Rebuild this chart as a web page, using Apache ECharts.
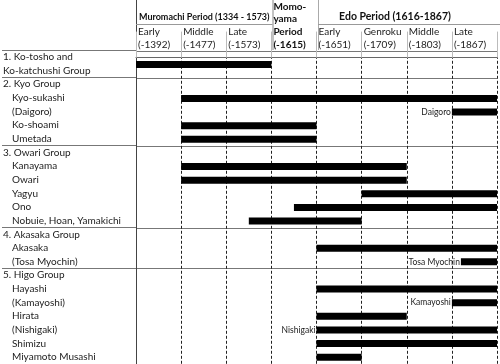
<!DOCTYPE html>
<html>
<head>
<meta charset="utf-8">
<script src="https://cdn.jsdelivr.net/npm/echarts@6/dist/echarts.min.js"></script>
<style>
  html, body { margin: 0; padding: 0; background: #fff; }
  #main { width: 500px; height: 364px; }
</style>
</head>
<body>
<div id="main"></div>
<script>
const chartDom = document.getElementById('main')
const myChart = echarts.init(chartDom)

// row labels down the left side (group header rows are not indented)
const rowLabels = [
    '1. Ko-tosho and', 'Ko-katchushi Group',
    '2. Kyo Group', 'Kyo-sukashi', '(Daigoro)', 'Ko-shoami', 'Umetada',
    '3. Owari Group', 'Kanayama', 'Owari', 'Yagyu', 'Ono', 'Nobuie, Hoan, Yamakichi',
    '4. Akasaka Group', 'Akasaka', '(Tosa Myochin)',
    '5. Higo Group', 'Hayashi', '(Kamayoshi)', 'Hirata', '(Nishigaki)', 'Shimizu', 'Miyamoto Musashi'
]
const headerRows = [0, 1, 2, 7, 13, 16]
const groupBreaks = [0, 2, 7, 13, 16]

// era columns (x axis runs 0..8, one unit per column)
const colLabels = [
    'Early\n(-1392)', 'Middle\n(-1477)', 'Late\n(-1573)', '',
    'Early\n(-1651)', 'Genroku\n(-1709)', 'Middle\n(-1803)', 'Late\n(-1867)'
]
const momoyamaLabel = 'Momo-\nyama\nPeriod\n(-1615)'
const periodLabels = ['Muromachi Period (1334 - 1573)', 'Edo Period (1616-1867)']

// bars: row position, start column, end column, side note
const barRows   = [0.5, 3, 4, 5, 6, 8, 9, 10, 11, 12, 14, 15, 17, 18, 19, 20, 21, 22]
const barStarts = [0, 1, 7, 1, 1, 1, 1, 5, 3.5, 2.5, 4, 7.2, 4, 7, 4, 4, 4, 4]
const barEnds   = [3, 8, 8, 4, 4, 6, 6, 8, 8, 5, 8, 8, 8, 8, 6, 8, 8, 5]
const barNotes  = ['', '', 'Daigoro', '', '', '', '', '', '', '', '', 'Tosa Myochin', '', 'Kamayoshi', '', 'Nishigaki', '', '']

const FONT = 'Lato'
const GRID_TOP = 50
const GRID_LEFT = 136
const GRID_H = 315
const colW = (500 - GRID_LEFT) / 8

const barData = barRows.map((r, i) => [barStarts[i], barEnds[i], r, barNotes[i]])

function renderBar(params, api) {
    const p0 = api.coord([api.value(0), api.value(2)])
    const p1 = api.coord([api.value(1), api.value(2)])
    const h = 7
    const children = [{
        type: 'rect',
        shape: { x: p0[0], y: p0[1] - h / 2, width: p1[0] - p0[0], height: h },
        style: { fill: '#000' }
    }]
    const note = barNotes[params.dataIndex]
    if (note) {
        children.push({
            type: 'text',
            x: p0[0] - 1,
            y: p0[1],
            style: {
                text: note, fill: '#222', font: '8.5px ' + FONT,
                align: 'right', verticalAlign: 'middle'
            }
        })
    }
    return { type: 'group', children }
}

const hx = k => GRID_LEFT + colW * k
const ruleGray = '#888'

const option = {
    animation: false,
    textStyle: { fontFamily: FONT },
    grid: [
        { left: 0, width: GRID_LEFT, top: GRID_TOP, height: GRID_H },
        { left: GRID_LEFT, right: 0, top: GRID_TOP, height: GRID_H }
    ],
    xAxis: [
        { gridIndex: 0, type: 'value', show: false },
        {
            gridIndex: 1, type: 'value', position: 'top', min: 0, max: 8, interval: 1,
            axisLine: { show: true, lineStyle: { color: '#666', width: 1 } },
            axisTick: { show: true, inside: false, length: 26, lineStyle: { color: '#bbb' } },
            axisLabel: {
                show: true, margin: 0, align: 'left', lineHeight: 13,
                fontSize: 10, color: '#222', padding: [0, 0, 0, 2],
                formatter: v => v === 3 ? '{b|' + momoyamaLabel + '}' : (colLabels[v] || ''),
                rich: { b: { fontWeight: 'bold', fontSize: 10, lineHeight: 12.7, color: '#111', fontFamily: FONT } }
            },
            splitLine: { show: true, lineStyle: { color: '#222', type: [3, 2], width: 1 } }
        }
    ],
    yAxis: [
        {
            gridIndex: 0, type: 'category', inverse: true, data: rowLabels,
            axisLine: { show: false }, axisTick: { show: false },
            axisLabel: {
                inside: true, margin: 1, interval: 0, fontSize: 10, color: '#222',
                formatter: (v, i) => headerRows.includes(i) ? '{g|' + v + '}' : '{s|' + v + '}',
                rich: { g: { fontSize: 10, color: '#222' }, s: { fontSize: 10, color: '#222', padding: [0, 0, 0, 9] } }
            },
            splitLine: { show: true, interval: i => groupBreaks.includes(i), lineStyle: { color: '#777' } }
        },
        {
            gridIndex: 1, type: 'category', inverse: true, data: rowLabels,
            axisLine: { show: true, lineStyle: { color: '#444' } },
            axisTick: { show: false }, axisLabel: { show: false },
            splitLine: { show: true, interval: i => groupBreaks.includes(i), lineStyle: { color: '#777' } }
        },
        {
            gridIndex: 1, type: 'value', inverse: true, min: -0.5, max: rowLabels.length - 0.5, show: false
        }
    ],
    graphic: [
        { type: 'line', shape: { x1: hx(0) + 0.5, y1: 0, x2: hx(0) + 0.5, y2: GRID_TOP }, style: { stroke: '#444' } },
        { type: 'line', shape: { x1: hx(3) + 0.5, y1: 0, x2: hx(3) + 0.5, y2: GRID_TOP }, style: { stroke: ruleGray } },
        { type: 'line', shape: { x1: hx(4) + 0.5, y1: 0, x2: hx(4) + 0.5, y2: GRID_TOP }, style: { stroke: '#aaa' } },
        { type: 'line', shape: { x1: hx(0), y1: 24.5, x2: hx(3), y2: 24.5 }, style: { stroke: '#999' } },
        { type: 'line', shape: { x1: hx(4), y1: 24.5, x2: 500, y2: 24.5 }, style: { stroke: '#999' } },
        {
            type: 'text', x: (hx(0) + hx(3)) / 2, y: 17,
            style: { text: periodLabels[0], font: 'bold 9px ' + FONT, fill: '#111', align: 'center', verticalAlign: 'middle' }
        },
        {
            type: 'text', x: 395, y: 17,
            style: { text: periodLabels[1], font: 'bold 10.5px ' + FONT, fill: '#111', align: 'center', verticalAlign: 'middle' }
        }
    ],
    series: [
        {
            type: 'custom',
            xAxisIndex: 1,
            yAxisIndex: 2,
            renderItem: renderBar,
            data: barData,
            clip: false
        }
    ]
}

myChart.setOption(option)
</script>
</body>
</html>
